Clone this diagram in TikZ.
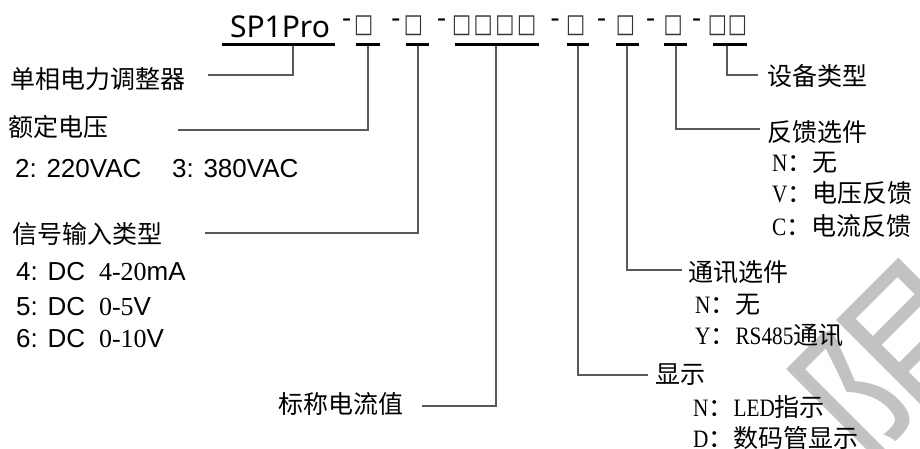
\documentclass[tikz,border=0pt]{standalone}
\usepackage{fontspec}
\setmainfont{Liberation Sans}
\newfontfamily\cjk{Noto Sans CJK SC}
\newfontfamily\latfont[FakeStretch=0.85]{Liberation Serif}
\newfontfamily\numserif{Liberation Serif}
\newfontfamily\titlef{Noto Sans}
\newfontfamily\boxf[FakeStretch=0.78]{DejaVu Sans}
\newcommand\lt[1]{{\latfont #1}}
\newcommand\ns[1]{{\numserif\fontsize{26}{30}\selectfont #1}}
\tikzset{
  lbl/.style={anchor=west, inner sep=0, font=\cjk\fontsize{25}{30}\selectfont},
  num/.style={anchor=west, inner sep=0, font=\fontsize{26}{30}\selectfont},
  bar/.style={line width=3.2pt, black, line cap=butt},
  conn/.style={line width=1.1pt, black!65},
  dsh/.style={inner sep=0, font=\titlef\bfseries\fontsize{28}{30}\selectfont},
  bx/.style={inner sep=0, font=\boxf\fontsize{26}{30}\selectfont, text=black!80},
}
\begin{document}
\begin{tikzpicture}[x=1pt,y=-1pt]
\useasboundingbox (0,0) rectangle (920,448);
% watermark
\begin{scope}
\clip (0,0) rectangle (920,448);
\node[rotate=45, text=black!24, font=\cjk\fontsize{200}{200}\selectfont, inner sep=0] (wm) at (906,374) {限};
\end{scope}
% title
\node[anchor=base, inner sep=0, font=\titlef\fontsize{30}{36}\selectfont] (sp) at (280,37) {SP1Pro};
\foreach \n/\x in {1/346.7,2/396,3/441.7,4/555,5/601.7,6/650.7,7/696.7}
  \node[dsh] (d\n) at (\x,23) {-};
\foreach \n/\x in {1/363.7,2/413.5,3/461.7,4/483.3,5/505,6/526.7,7/575.8,8/625.5,9/673.3,10/717.5,11/737.5}
  \node[bx] (b\n) at (\x,25.5) {□};
% underline bars
\draw[bar] (222,44.5) -- (335,44.5);
\draw[bar] (356,44.5) -- (380,44.5);
\draw[bar] (406,44.5) -- (429,44.5);
\draw[bar] (455,44.5) -- (539,44.5);
\draw[bar] (567,44.5) -- (589,44.5);
\draw[bar] (616,44.5) -- (639,44.5);
\draw[bar] (664,44.5) -- (687,44.5);
\draw[bar] (713,44.5) -- (747,44.5);
% connector start points
\coordinate (s1) at (293,46);
\coordinate (s2) at (368,46);
\coordinate (s3) at (418,46);
\coordinate (s4) at (496,46);
\coordinate (s5) at (578,46);
\coordinate (s6) at (627,46);
\coordinate (s7) at (676,46);
\coordinate (s8) at (727,46);
% connector ends
\coordinate (e1) at (208,75);
\coordinate (e2) at (178,130);
\coordinate (e3) at (205,233);
\coordinate (e4) at (422,406);
\coordinate (e5) at (648,375);
\coordinate (e6) at (682,270);
\coordinate (e7) at (760,129);
\coordinate (e8) at (758,75);
\foreach \i in {1,...,8} \draw[conn] (s\i) |- (e\i);
% left labels
\node[lbl] (t1) at (10,79) {单相电力调整器};
\node[lbl] (t2) at (8,127) {额定电压};
\node[num] (t2a) at (15,168.5) {2: 220VAC};
\node[num] (t2b) at (172,168.5) {3: 380VAC};
\node[lbl] (t3) at (12,233.5) {信号输入类型};
\node[num] (t3a) at (16,271.5) {4: DC\hspace{14pt}\ns{4-20}mA};
\node[num] (t3b) at (16,306.5) {5: DC\hspace{14pt}\ns{0-5}V};
\node[num] (t3c) at (16,339) {6: DC\hspace{14pt}\ns{0-10}V};
\node[lbl] (t4) at (278,404) {标称电流值};
% right labels
\node[lbl] (r8) at (767,76) {设备类型};
\node[lbl] (r7) at (767,132) {反馈选件};
\node[lbl] (r7a) at (772,163) {\lt{N}：无};
\node[lbl] (r7b) at (772,193.5) {\lt{V}：电压反馈};
\node[lbl] (r7c) at (772,226) {\lt{C}：电流反馈};
\node[lbl] (r6) at (688,272.5) {通讯选件};
\node[lbl] (r6a) at (695,305) {\lt{N}：无};
\node[lbl] (r6b) at (695,335) {\lt{Y}：\lt{RS485}通讯};
\node[lbl] (r5) at (655,375) {显示};
\node[lbl] (r5a) at (693,407) {\lt{N}：\lt{LED}指示};
\node[lbl] (r5b) at (693,438) {\lt{D}：数码管显示};
\end{tikzpicture}
\end{document}
